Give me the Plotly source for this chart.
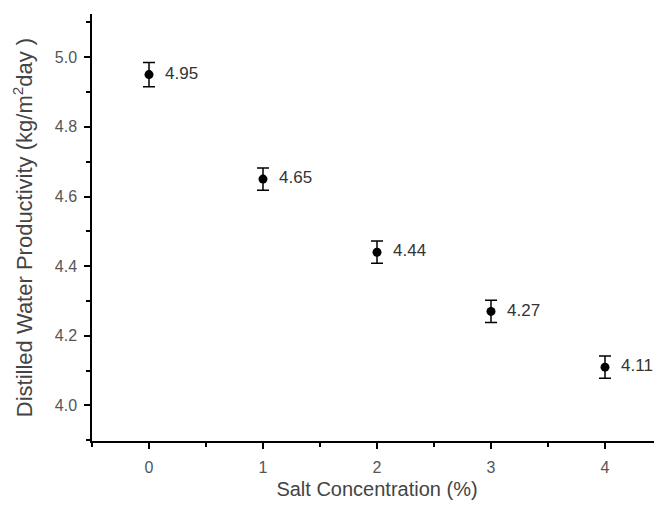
import plotly.graph_objects as go

salt = [0, 1, 2, 3, 4]
productivity = [4.95, 4.65, 4.44, 4.27, 4.11]
error = [0.035, 0.032, 0.032, 0.032, 0.032]
labels = ["4.95", "4.65", "4.44", "4.27", "4.11"]
x_ticks = [0, 1, 2, 3, 4]
y_ticks = [4.0, 4.2, 4.4, 4.6, 4.8, 5.0]
y_ticktext = ["4.0", "4.2", "4.4", "4.6", "4.8", "5.0"]

FONT = "Liberation Sans, Arial"

fig = go.Figure()
fig.add_trace(go.Scatter(
    x=salt, y=productivity,
    mode="markers+text",
    marker=dict(color="black", size=9),
    error_y=dict(type="data", array=error, color="black", thickness=1.5, width=6),
    text=["  " + t for t in labels],
    textposition="middle right",
    textfont=dict(family=FONT, size=17, color="#333333"),
    showlegend=False,
    cliponaxis=False,
))

axis_common = dict(
    showline=True, linecolor="black", linewidth=1.5,
    ticks="outside", ticklen=6, tickwidth=1.5, tickcolor="black",
    showgrid=False, zeroline=False, mirror=False, automargin=False,
    tickfont=dict(family=FONT, size=16, color="#555555"),
    minor=dict(ticks="outside", ticklen=4, tickwidth=1.5, tickcolor="black"),
)

fig.update_xaxes(
    range=[-0.5, 4.5], tickvals=x_ticks, ticktext=[str(s) for s in x_ticks],
    minor_dtick=0.5, minor_tick0=-0.5,
    title_text="Salt Concentration (%)", title_standoff=7,
    title_font=dict(family=FONT, size=20, color="#444444"),
    ticklabelstandoff=5,
    **axis_common,
)
fig.update_yaxes(
    range=[3.898, 5.124], tickvals=y_ticks, ticktext=y_ticktext,
    minor_dtick=0.1, minor_tick0=3.9,
    title_text="Distilled Water Productivity (kg/m<sup>2</sup>day )", title_standoff=16,
    title_font=dict(family=FONT, size=22, color="#444444"),
    ticklabelstandoff=4,
    **axis_common,
)

fig.update_layout(
    width=654, height=503,
    margin=dict(l=84, r=0, t=6, b=70),
    plot_bgcolor="white", paper_bgcolor="white",
)

fig.write_html("out.html")
